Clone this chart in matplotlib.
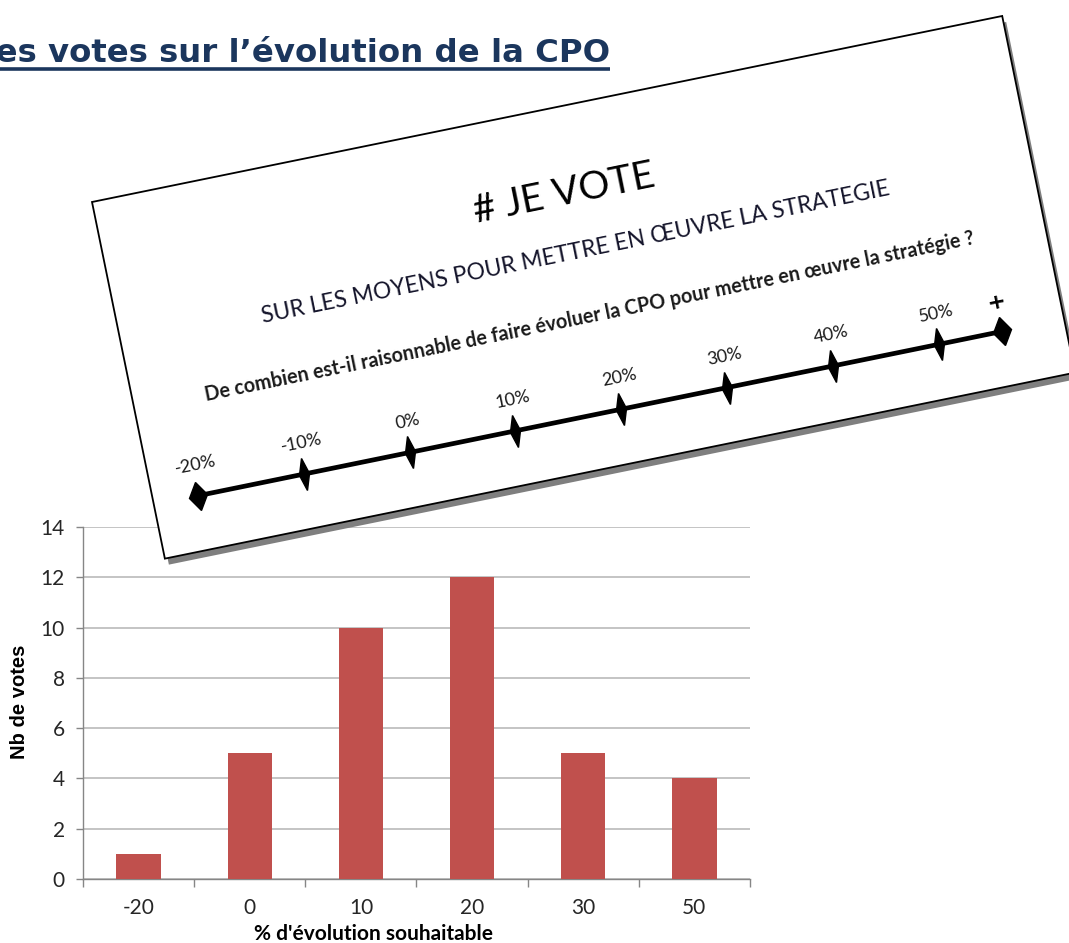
import numpy as np
import matplotlib
matplotlib.use("Agg")
import matplotlib.pyplot as plt
from matplotlib.patches import Polygon
from matplotlib.markers import MarkerStyle
from matplotlib.transforms import Affine2D

# votes per proposed change of the CPO (%)
categories = ["-20", "0", "10", "20", "30", "50"]
votes = [1, 5, 10, 12, 5, 4]

# graduations of the voting scale on the card
scale_labels = ["-20%", "-10%", "0%", "10%", "20%", "30%", "40%", "50%"]

title = "Les votes sur l\u2019évolution de la CPO"
card_title = "# JE VOTE"
card_subtitle = "SUR LES MOYENS POUR METTRE EN \u0152UVRE LA STRATEGIE"
card_question = ("De combien est-il raisonnable de faire évoluer la CPO "
                 "pour mettre en \u0153uvre la stratégie ?")

W, H = 1069, 943
BAR_RED = "#C0504D"
AXIS_GREY = "#868686"
NAVY = "#1B365D"

fig = plt.figure(figsize=(W / 100, H / 100), dpi=100)

# ---- bar chart ----
ax = fig.add_axes([83 / W, 1 - 879 / H, (750 - 83) / W, (879 - 527) / H])
x = np.arange(len(categories))
ax.bar(x, votes, width=0.4, color=BAR_RED, zorder=3)
ax.set_xlim(-0.5, len(categories) - 0.5)
ax.set_ylim(0, 14)
ax.set_yticks(range(0, 15, 2))
ax.set_xticks(np.arange(len(categories) + 1) - 0.5)
ax.set_xticklabels([])
ax.set_xticks(x, minor=True)
ax.set_xticklabels(categories, minor=True)
ax.tick_params(axis="x", which="major", length=6, color=AXIS_GREY, width=1)
ax.tick_params(axis="x", which="minor", length=0, pad=14)
ax.tick_params(axis="y", length=5, color=AXIS_GREY, width=1, pad=8)
for lab in ax.get_xticklabels(minor=True) + ax.get_yticklabels():
    lab.set_fontfamily("Lato")
    lab.set_fontsize(15)
    lab.set_color("#262626")
ax.grid(axis="y", color="#BFBFBF", lw=1.3)
ax.set_axisbelow(True)
for s in ["top", "right"]:
    ax.spines[s].set_visible(False)
for s in ["left", "bottom"]:
    ax.spines[s].set_color(AXIS_GREY)
    ax.spines[s].set_linewidth(1)

fig.text(20 / W, 1 - 702 / H, "Nb de votes", rotation=90, ha="center", va="center",
         family="Liberation Sans", weight="bold", fontsize=14.5, color="black")
fig.text(373 / W, 1 - 934 / H, "% d'évolution souhaitable", ha="center", va="center",
         family="Lato", weight="bold", fontsize=15, color="black")

# ---- page overlay in pixel coordinates (y down) ----
ov = fig.add_axes([0, 0, 1, 1], zorder=5)
ov.set_xlim(0, W)
ov.set_ylim(H, 0)
ov.axis("off")
ov.patch.set_alpha(0)

ov.text(610, 62, title, ha="right", va="baseline", family="DejaVu Sans",
        weight="bold", fontsize=23.3, color=NAVY)
ov.plot([0, 610], [68.5, 68.5], color=NAVY, lw=2.6, solid_capstyle="butt")

# tilted voting card
theta = 11.55
card_w, card_h = 929, 364
to_page = Affine2D().rotate_deg(-theta).translate(92, 202)
tr = to_page + ov.transData
corners = [(0, 0), (card_w, 0), (card_w, card_h), (0, card_h)]
shadow_tr = Affine2D().rotate_deg(-theta).translate(96, 208) + ov.transData
ov.add_patch(Polygon(corners, closed=True, transform=shadow_tr, fc="#7F7F7F", ec="none"))
ov.add_patch(Polygon(corners, closed=True, transform=tr, fc="white", ec="black", lw=1.3))


def card_text(u, v, s, **kw):
    px, py = to_page.transform((u, v))
    ov.text(px, py, s, rotation=theta, rotation_mode="anchor",
            ha="center", va="center", **kw)


card_text(464, 86, card_title, family="Lato", fontsize=28, color="black")
card_text(464, 146, card_subtitle, family="Lato", fontsize=16.5, color="#14142a")
card_text(464, 212, card_question, family="Lato", weight="bold", fontsize=14.2,
          color="#1a1a1a")

# number line with diamond ends and ticks
u0, step, line_v = 45, 108, 309
u_end = 866
ov.plot([u0, u_end], [line_v, line_v], transform=tr, color="black", lw=3.4,
        solid_capstyle="butt")
end_marker = MarkerStyle("D", transform=Affine2D().scale(0.8, 1.2).rotate_deg(theta))
ov.plot([u0, u_end], [line_v, line_v], transform=tr, ls="none",
        marker=end_marker, ms=12, color="black")
tick_marker = MarkerStyle("d", transform=Affine2D().scale(0.6, 1.3).rotate_deg(theta))
tick_u = [u0 + step * i for i in range(1, len(scale_labels))]
ov.plot(tick_u, [line_v] * len(tick_u), transform=tr, ls="none",
        marker=tick_marker, ms=13, color="black")
for i, lab in enumerate(scale_labels):
    card_text(u0 + step * i + 4, line_v - 31, lab, family="Lato", fontsize=13,
              color="#1a1a1a")
card_text(u_end, line_v - 30, "+", family="DejaVu Sans", weight="bold",
          fontsize=16, color="black")

fig.savefig("out.png", dpi=100)
